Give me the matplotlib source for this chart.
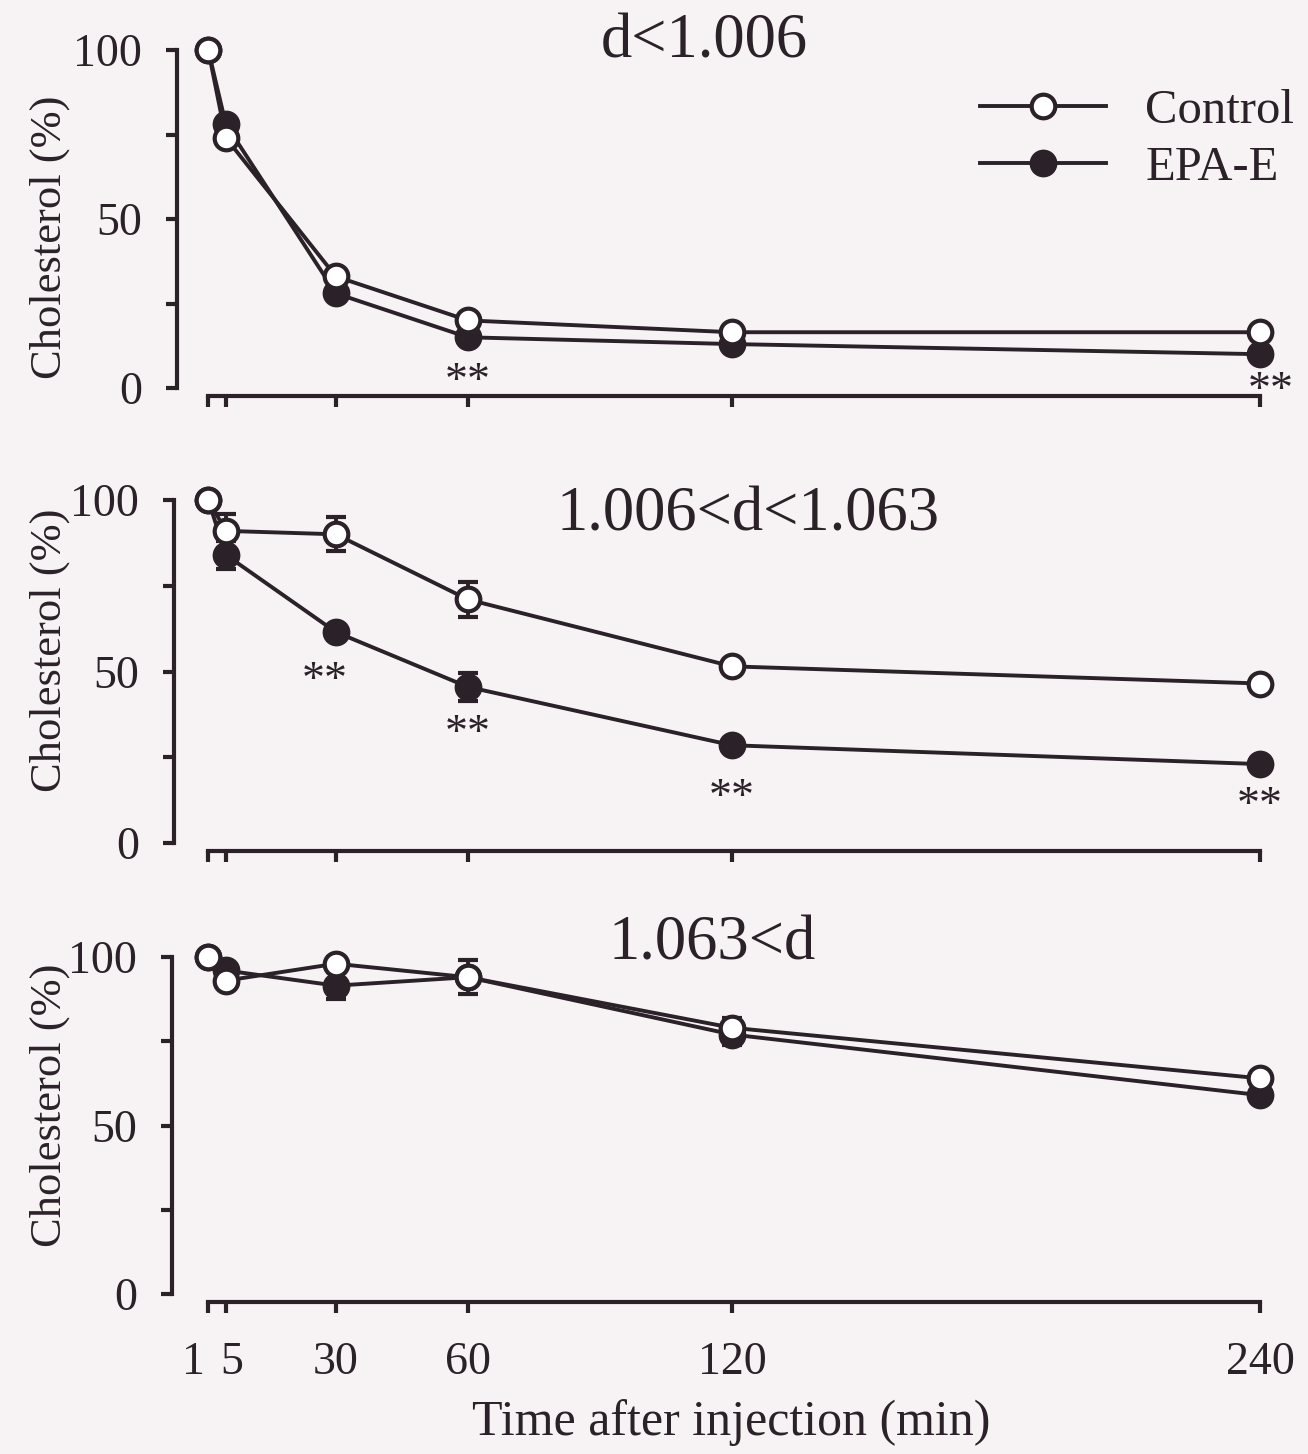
import numpy as np
import matplotlib
matplotlib.use('Agg')
import matplotlib.pyplot as plt
from matplotlib.lines import Line2D
import matplotlib.transforms as mtransforms

plt.rcParams['font.family'] = ['Liberation Serif', 'DejaVu Serif']

ink = '#2b2129'
bg = '#f7f2f4'

# time points (min)
t = [1, 5, 30, 60, 120, 240]
xticks = [1, 5, 30, 60, 120, 240]
xticklabels = ['1', '5', '30', '60', '120', '240']

titles = ['d<1.006', '1.006<d<1.063', '1.063<d']

# % cholesterol remaining
ctrl = [[100, 74, 33, 20, 16.5, 16.5],
        [100, 91, 90, 71, 51.5, 46.5],
        [100, 93, 98, 94, 79, 64]]
ctrl_err = [[0, 1, 1, 1, 1, 1],
            [0, 5, 5, 5, 1, 1],
            [0, 1, 2, 2, 3, 1]]
epa = [[100, 78, 28, 15, 13, 10],
       [100, 84, 61.5, 45.5, 28.5, 23],
       [100, 96, 91.5, 94, 77, 59]]
epa_err = [[0, 1, 1, 1, 1, 1],
           [0, 4, 1, 4, 1, 1],
           [0, 1, 4, 5, 3, 1]]

# significance marks (time, y position)
stars = [[(60, 1.5), (242.5, -1)],
         [(27.5, 47), (60, 31.5), (120, 13), (240, 10.5)],
         []]

fig = plt.figure(figsize=(13.08, 14.54), dpi=100, facecolor=bg)

H = 1454.0
W = 1308.0
rows = [(50, 388), (500, 843), (957, 1294)]
lefts = [177, 174, 172]
title_pos = [(704, 43), (748, 515), (712, 945)]
ylab_y = [237, 650, 1105]

lw = 2.8
for i in range(3):
  top, bot = rows[i]
  x0 = lefts[i]
  ax = fig.add_axes([x0 / W, 1 - bot / H, (1290 - x0) / W, (bot - top) / H])
  ax.set_facecolor('none')
  ax.set_xlim(-6.1 - (177 - x0) / 4.4, 246.8)
  ax.set_ylim(0, 100)

  ax.errorbar(t, epa[i], yerr=epa_err[i], color=ink, lw=lw, marker='o', ms=17,
              mfc=ink, mec=ink, mew=3, capsize=7, capthick=lw, elinewidth=lw,
              clip_on=False, zorder=3)
  ax.errorbar(t, ctrl[i], yerr=ctrl_err[i], color=ink, lw=lw, marker='o', ms=17,
              mfc='white', mec=ink, mew=3, capsize=7, capthick=lw, elinewidth=lw,
              clip_on=False, zorder=4)

  for sx, sy in stars[i]:
    ax.text(sx, sy, '**', ha='center', va='center', fontsize=33, color=ink)

  tx, ty = title_pos[i]
  fig.text(tx / W, 1 - ty / H, titles[i], ha='center', va='center', fontsize=45, color=ink)

  for s in ['top', 'right']:
    ax.spines[s].set_visible(False)
  ax.spines['left'].set_bounds(0, 100)
  ax.spines['bottom'].set_bounds(1, 240)
  ax.spines['bottom'].set_position(('outward', 6))
  for s in ['left', 'bottom']:
    ax.spines[s].set_linewidth(3)
    ax.spines[s].set_color(ink)

  ax.set_yticks([0, 25, 50, 75, 100])
  ax.set_yticklabels(['0', '', '50', '', '100'])
  ax.set_xticks(xticks)
  ax.tick_params(axis='both', direction='out', length=8, width=3, color=ink,
                 labelsize=33, labelcolor=ink)
  ax.tick_params(axis='y', pad=17)
  ax.tick_params(axis='x', pad=20)
  if i == 2:
    ax.set_xticklabels(xticklabels)
    ax.set_xlabel('Time after injection (min)', fontsize=36, color=ink, labelpad=11)
    labs = ax.get_xticklabels()
    labs[0].set_transform(labs[0].get_transform() +
                          mtransforms.ScaledTranslation(-15 / 100, 0, fig.dpi_scale_trans))
    labs[1].set_transform(labs[1].get_transform() +
                          mtransforms.ScaledTranslation(6 / 100, 0, fig.dpi_scale_trans))
  else:
    ax.set_xticklabels([])
  ax.set_ylabel('Cholesterol (%)', fontsize=32, color=ink)
  ax.yaxis.set_label_coords(70 / W, 1 - ylab_y[i] / H, transform=fig.transFigure)

  if i == 0:
    h = [Line2D([], [], color=ink, lw=lw, marker='o', ms=17, mfc='white', mec=ink, mew=3),
         Line2D([], [], color=ink, lw=lw, marker='o', ms=17, mfc=ink, mec=ink, mew=3)]
    ax.legend(h, ['Control', 'EPA-E'], loc='upper right', bbox_to_anchor=(1.03, 0.97),
              frameon=False, fontsize=35, handlelength=2.6, handletextpad=0.8,
              labelspacing=0.25, labelcolor=ink, borderaxespad=0.2)

plt.savefig('out.png', dpi=100, facecolor=bg)
